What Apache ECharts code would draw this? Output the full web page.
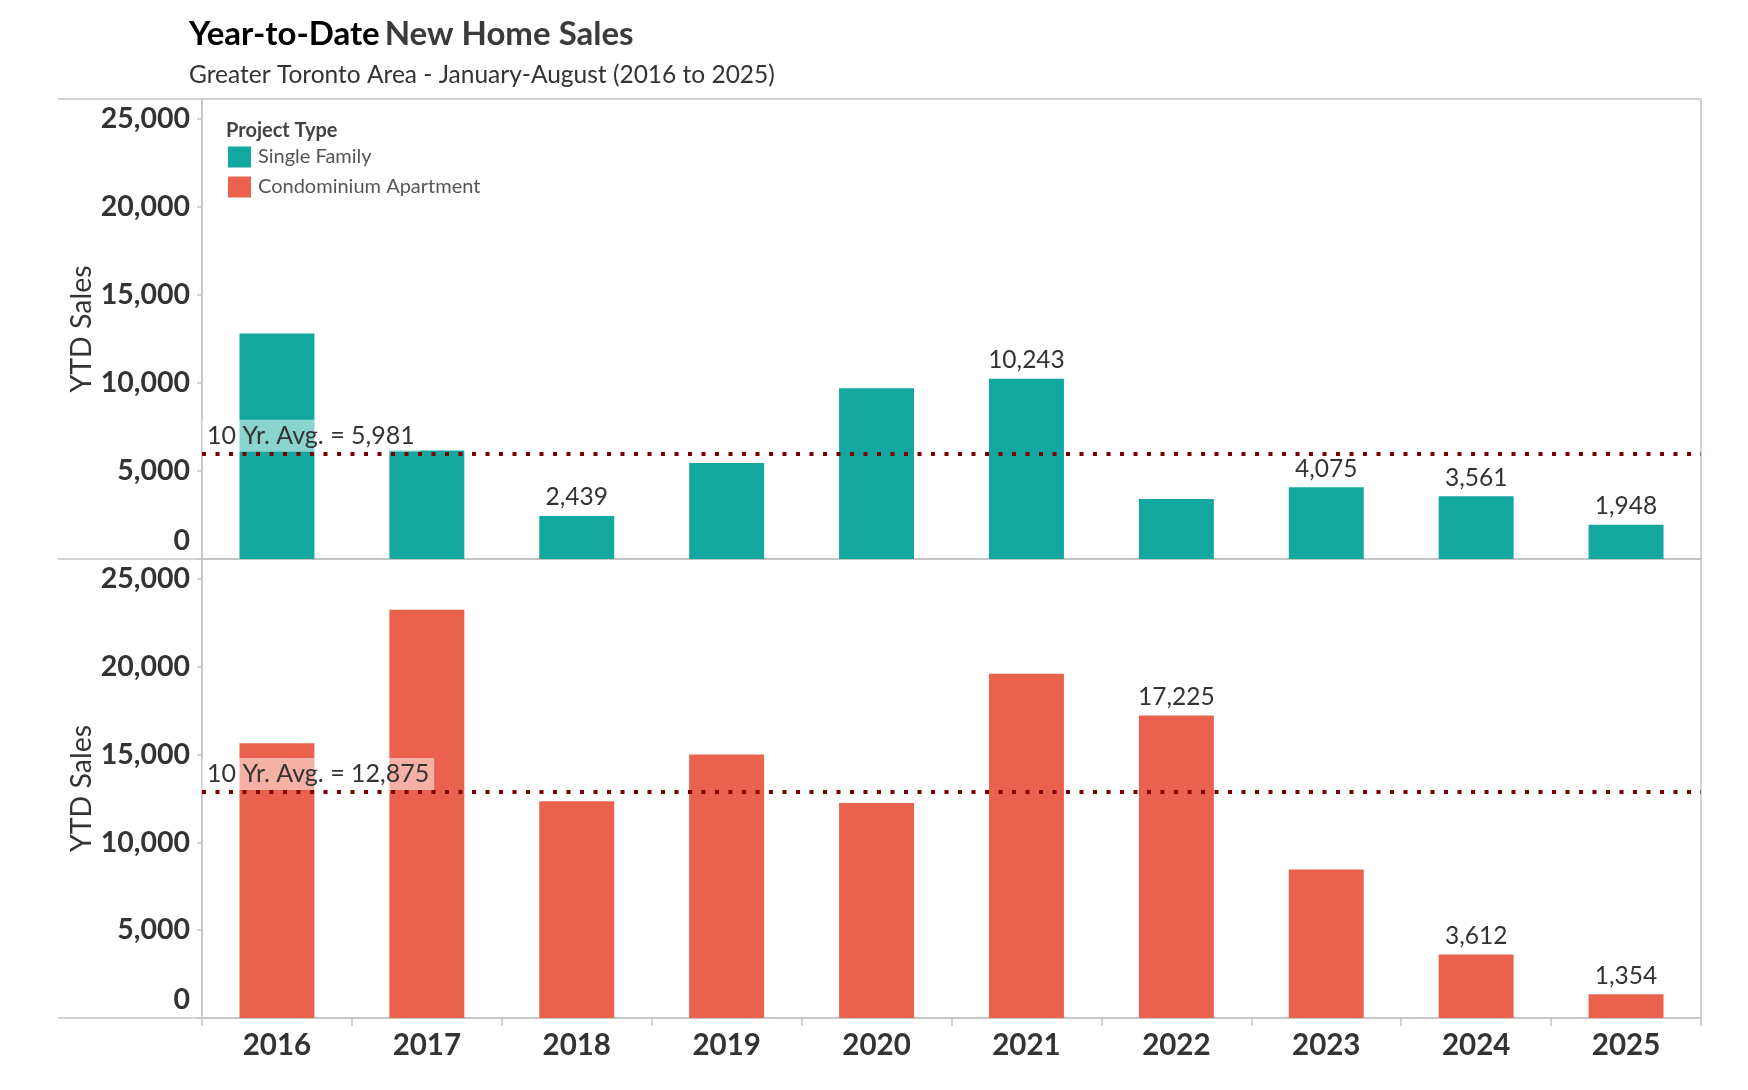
<!DOCTYPE html>
<html><head><meta charset="utf-8">
<script src="https://cdn.jsdelivr.net/npm/echarts@6/dist/echarts.min.js"></script>
<style>html,body{margin:0;padding:0;background:#fff}#c{width:1748px;height:1090px}</style>
</head><body><div id="c"></div>
<script>
const years = ['2016','2017','2018','2019','2020','2021','2022','2023','2024','2025'];
const singleFamily = [12820, 6160, 2439, 5460, 9710, 10243, 3410, 4075, 3561, 1948];
const condoApartment = [15650, 23250, 12350, 15000, 12250, 19600, 17225, 8450, 3612, 1354];
const singleFamilyAvg = 5981;
const condoAvg = 12875;
const labeledSingleFamily = ['2018','2021','2023','2024','2025'];
const labeledCondo = ['2022','2024','2025'];
const yTicks = [0, 5000, 10000, 15000, 20000, 25000];
const yMax = 26140;

const FONT = 'Lato';
const TEAL = '#12a89f';
const CORAL = '#ea624d';
const LINE = '#c4c4c4';
const fmt = v => Number(v).toLocaleString('en-US');

function yAxisFor(idx) {
  return {
    gridIndex: idx, type: 'value', min: 0, max: yMax,
    name: 'YTD Sales', nameLocation: 'middle', nameGap: 106, nameMoveOverlap: false,
    nameTextStyle: { fontFamily: FONT, fontSize: 28.5, color: '#333' },
    splitLine: { show: false },
    axisLine: { show: true, lineStyle: { color: LINE, width: 1.5 } },
    axisTick: { show: true, length: 5, customValues: yTicks, lineStyle: { color: LINE, width: 1.5 } },
    axisLabel: {
      customValues: yTicks, margin: 12,
      formatter: v => v === 0 ? '{z|0}' : '{n|' + fmt(v) + '}',
      rich: {
        n: { fontFamily: FONT, fontWeight: 'bold', fontSize: 28.5, color: '#333' },
        z: { fontFamily: FONT, fontWeight: 'bold', fontSize: 28.5, color: '#333', padding: [0, 0, 36, 0] }
      }
    }
  };
}

function xAxisFor(idx, showLabels) {
  return {
    gridIndex: idx, type: 'category', data: years,
    axisLine: { show: true, lineStyle: { color: LINE, width: 1.5 } },
    axisTick: { show: showLabels, length: 8, lineStyle: { color: LINE, width: 1.5 } },
    axisLabel: { show: showLabels, fontFamily: FONT, fontWeight: 'bold', fontSize: 29.5, color: '#333', margin: 12 }
  };
}

function barSeries(name, idx, values, labeled, color, avg) {
  return {
    type: 'bar', name: name, xAxisIndex: idx, yAxisIndex: idx,
    barWidth: '50%',
    itemStyle: { color: color },
    data: values.map((v, i) => ({ value: v, label: { show: labeled.includes(years[i]) } })),
    label: { position: 'top', distance: 6, fontFamily: FONT, fontSize: 24.5, color: '#333', formatter: p => fmt(p.value) },
    markLine: {
      silent: true, symbol: 'none',
      data: [{ yAxis: avg }],
      lineStyle: { color: '#7d0000', type: [4, 9.5], width: 4 },
      label: {
        position: 'insideStartTop', distance: [0, 2],
        formatter: '10 Yr. Avg. = ' + fmt(avg),
        fontFamily: FONT, fontSize: 25, color: '#333',
        backgroundColor: 'rgba(255,255,255,0.5)', padding: [4, 5, 3, 5]
      }
    }
  };
}

const chart = echarts.init(document.getElementById('c'));
chart.setOption({
  animation: false,
  backgroundColor: '#fff',
  title: [
    { text: '{a|Year-to-Date} {b|New Home Sales}', left: 184, top: 13,
      textStyle: { rich: {
        a: { fontFamily: FONT, fontWeight: 'bold', fontSize: 33, color: '#000' },
        b: { fontFamily: FONT, fontWeight: 'bold', fontSize: 33, color: '#3a3a3a' } } } },
    { text: 'Greater Toronto Area - January-August (2016 to 2025)', left: 184, top: 58,
      textStyle: { fontFamily: FONT, fontWeight: 'normal', fontSize: 24.5, color: '#333' } }
  ],
  legend: {
    left: 228, top: 146.5, padding: 0, orient: 'vertical', icon: 'rect',
    itemWidth: 23, itemHeight: 21, itemGap: 9,
    data: ['Single Family', 'Condominium Apartment'],
    textStyle: { fontFamily: FONT, fontSize: 20, color: '#555', padding: [0, 0, 0, 2] }
  },
  grid: [
    { left: 202, right: 47, top: 99, height: 460, show: true, borderColor: LINE, borderWidth: 1.5 },
    { left: 202, right: 47, top: 559, height: 459, show: true, borderColor: LINE, borderWidth: 1.5 }
  ],
  xAxis: [xAxisFor(0, false), xAxisFor(1, true)],
  yAxis: [yAxisFor(0), yAxisFor(1)],
  series: [
    barSeries('Single Family', 0, singleFamily, labeledSingleFamily, TEAL, singleFamilyAvg),
    barSeries('Condominium Apartment', 1, condoApartment, labeledCondo, CORAL, condoAvg)
  ],
  graphic: [
    { type: 'text', left: 226, top: 121, style: { text: 'Project Type', fontFamily: FONT, fontWeight: 'bold', fontSize: 20, fill: '#444' } },
    { type: 'line', shape: { x1: 58, y1: 99, x2: 202, y2: 99 }, style: { stroke: LINE, lineWidth: 1.5 } },
    { type: 'line', shape: { x1: 58, y1: 559, x2: 202, y2: 559 }, style: { stroke: LINE, lineWidth: 1.5 } },
    { type: 'line', shape: { x1: 58, y1: 1018, x2: 202, y2: 1018 }, style: { stroke: LINE, lineWidth: 1.5 } }
  ]
});
</script></body></html>
